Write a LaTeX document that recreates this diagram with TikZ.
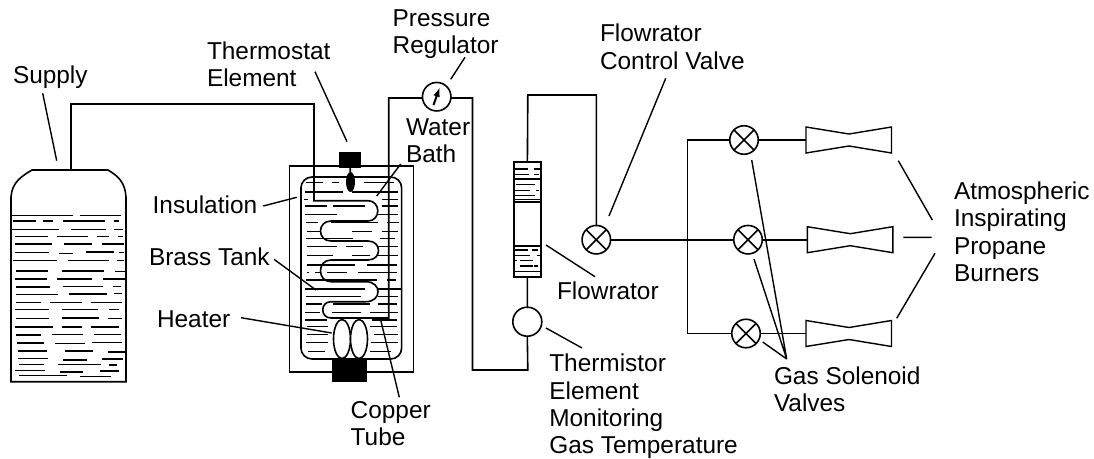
\documentclass[tikz,border=0pt]{standalone}
\usepackage{fontspec}
\setmainfont{Liberation Sans}
\usetikzlibrary{shapes.geometric}
\begin{document}
\begin{tikzpicture}[x=1pt,y=-1pt,line join=miter,
  pipe/.style={draw=black,line width=1.6pt},
  lead/.style={draw=black,line width=1.4pt},
  hat/.style={draw=black,line width=1.3pt},
  lab/.style={inner sep=0pt,outer sep=0pt,anchor=base west,align=left,font=\fontsize{24.4}{27.4}\selectfont,text=black},
  valve/.style={circle,draw=black,line width=1.6pt,minimum size=28.5pt,inner sep=0pt,outer sep=0pt,fill=white},
  box/.style={rectangle,draw=black,line width=1.6pt,inner sep=0pt,outer sep=0pt}]
\useasboundingbox (0,0) rectangle (1094,458);
% Supply tank
\coordinate (stop) at (71,170);
\draw[pipe] (11,381.7) -- (11,197) .. controls (12,182) and (22,176) .. (32,170) -- (108,170) .. controls (118,176) and (125,182) .. (126,197) -- (126,381.7) -- cycle;
\begin{scope}[shift={(0,150)},x=0.3333pt,y=-0.3333pt]
\foreach \a/\b/\c in {35/218/196,240/363/196,40/108/213,128/158/213,188/314/213,342/358/213,35/178/239,214/318/239,342/370/239,46/143/260,170/264/260,290/328/260,354/368/260,44/155/282,193/277/282,305/372/282,45/146/308,178/220/310,258/342/306,356/372/308,40/170/332,204/327/331,352/372/331,47/145/363,187/313/363,345/375/364,45/140/387,170/275/387,310/375/387,47/149/411,189/308/410,340/362/410,47/175/433,207/322/432,342/366/431,48/122/457,150/246/458,272/366/458,44/147/479,185/295/479,328/358/479,48/148/505,185/298/504,324/366/505,45/158/531,185/245/531,272/357/531,48/122/555,157/250/553,282/362/553,52/131/579,166/255/580,276/366/577,55/142/603,194/278/603,324/375/606,55/144/626,190/260/630,306/368/627,58/132/643,174/304/643,326/352/645,45/134/661,180/248/666,300/356/663,58/200/676,240/334/679}
  \draw[hat] (\a,\c) -- (\b,\c);
\end{scope}
% Water bath
\node[box,minimum width=124pt,minimum height=206pt] (ins) at (351.5,269) {};
\node[box,rounded corners=11pt,minimum width=100.7pt,minimum height=182pt] (tankb) at (351.3,268) {};
\begin{scope}[shift={(270,70)},x=0.3333pt,y=-0.3333pt]
\foreach \a/\b/\c in {108/160/338,186/206/338,282/372/338,105/218/366,245/385/366,103/113/388,335/385/388,105/170/408,190/285/408,335/385/408,105/200/434,325/385/434,108/145/458,183/325/458,350/388/458,110/150/485,245/305/485,335/385/485,108/175/505,175/250/505,330/375/505,110/200/530,228/280/530,325/385/530,110/190/557,245/300/557,320/385/557,110/255/585,290/380/585,110/118/607,135/150/607,170/230/607,265/380/607,108/320/630,350/378/630,105/285/657,325/392/657,108/272/680,325/385/680,108/155/702,190/300/702,325/380/702,105/150/727,185/272/727,300/385/727,105/170/750,305/380/750,110/175/770,300/380/770,110/175/793,312/385/793,108/175/818,302/385/818,115/165/845,300/362/845}
  \draw[hat] (\a,\c) -- (\b,\c);
\end{scope}
\node[fill=black,inner sep=0pt,minimum width=22pt,minimum height=16pt] (thb) at (350,160) {};
\node[fill=black,inner sep=0pt,minimum width=35pt,minimum height=23pt] (hb) at (349.5,370.5) {};
\node[ellipse,fill=black,inner sep=0pt,minimum width=9pt,minimum height=20pt] (the) at (350.5,182) {};
\draw[pipe] (thb) -- (the);
\node[ellipse,draw=black,line width=1.6pt,fill=white,inner sep=0pt,minimum width=17pt,minimum height=39pt] (h1) at (342,339) {};
\node[ellipse,draw=black,line width=1.6pt,fill=white,inner sep=0pt,minimum width=17pt,minimum height=39pt] (h2) at (359,339) {};
% Valves, gauge etc
\node[valve] (g) at (436.7,96.7) {};
\draw[pipe,line width=2pt,-latex] (433.5,105) -- (439.5,88);
\node[valve,minimum size=29pt] (tm) at (527.3,321.7) {};
\node[box,minimum width=26.7pt,minimum height=115.3pt] (fl) at (527.4,219.4) {};
\draw[pipe] (fl.west |- 0,201.7) -- (fl.east |- 0,201.7) (fl.west |- 0,245.7) -- (fl.east |- 0,245.7);
\begin{scope}[shift={(505,155)},x=0.3333pt,y=-0.3333pt]
\foreach \a/\b/\c in {30/70/42,88/104/42,30/72/58,88/103/58,30/104/72,32/90/88,30/75/106,93/103/106,30/90/122,30/104/133,30/70/285,80/100/285,30/75/302,95/104/302,30/37/316,45/85/316,45/85/333,88/98/333,30/104/350}
  \draw[hat] (\a,\c) -- (\b,\c);
\end{scope}
\foreach \n/\x/\y in {v0/596.3/239.7,v1/744/140,v2/748/239.7,v3/746/333.5}{
  \node[valve] (\n) at (\x,\y) {};
  \draw[pipe] (\n.45) -- (\n.225) (\n.135) -- (\n.315);
}
% Burners
\foreach \n/\x/\y in {b1/806/140,b2/807.3/239.7,b3/806/333.5}{
  \coordinate (\n) at (\x,\y);
  \draw[line width=1.4pt,line join=miter] (\n) ++(0,-13) -- ++(43,7) -- ++(42.5,-7) -- ++(0,26) -- ++(-42.5,-7) -- ++(-43,7) -- cycle;
}
% Pipes
\draw[pipe] (stop) -- (71,104) -- (314,104) -- (314,200.7) -- (368,200.7)
  .. controls (381,200.7) and (381,221) .. (368,221) -- (331,221)
  .. controls (317,221) and (317,241) .. (331,241) -- (368,241)
  .. controls (382,241) and (382,260) .. (368,260) -- (331,260)
  .. controls (317,260) and (317,281.7) .. (331,281.7) -- (366,281.7)
  .. controls (382,281.7) and (382,301.7) .. (366,301.7) -- (331,301.7)
  .. controls (320,301.7) and (320,318) .. (331,318) -- (388.7,318) -- (388.7,98) -- (g.west |- 0,98);
\draw[pipe] (388.7,289.3) -- (tankb.east |- 0,289.3);
\draw[pipe] (g.east |- 0,98) -- (472.5,98) -- (472.5,370) -- (527.8,370) -- (tm.south);
\draw[pipe] (tm.north) -- (fl.south);
\draw[pipe] (fl.north) -- (527.8,95) -- (596.3,95) -- (v0.north);
\draw[pipe] (v0.east) -- (v2.west);
\draw[pipe] (v1.west) -- (687.3,140) -- (687.3,333.5) -- (v3.west);
\draw[pipe] (v1.east) -- (b1);
\draw[pipe] (v2.east) -- (b2);
\draw[pipe] (v3.east) -- (b3);
% Leaders
\draw[lead] (42.7,93.3) coordinate (l1) -- (56.7,160.7) coordinate (l1b);
\draw[lead] (315,71.7) coordinate (l2) -- (347,141.7) coordinate (l2b);
\draw[lead] (465,57.3) coordinate (l3) -- (450.7,79.3) coordinate (l3b);
\draw[lead] (665.7,78.3) coordinate (l4) -- (609,216) coordinate (l4b);
\draw[lead] (400.7,164) coordinate (l5) -- (376.7,196) coordinate (l5b);
\draw[lead] (263.3,206) coordinate (l6) -- (296.7,197.3) coordinate (l6b);
\draw[lead] (274,259.3) coordinate (l7) -- (316,290) coordinate (l7b);
\draw[lead] (241,317.7) coordinate (l8) -- (331.7,333) coordinate (l8b);
\draw[lead] (380,317) coordinate (l9) -- (399.3,397.3) coordinate (l9b);
\draw[lead] (546,245) coordinate (l10) -- (595,276.7) coordinate (l10b);
\draw[lead] (546,328) coordinate (l11) -- (582,348) coordinate (l11b);
\coordinate (gsv) at (786.7,359);
\draw[lead] (751.7,160) -- (gsv) -- (754,259) (gsv) -- (762.7,342);
\draw[lead] (898.3,160.7) -- (932.3,220) (903.3,237.3) -- (931.7,237.3) (896.7,318.3) -- (935,253.3);
% Labels
\node[lab] (t1) at (13,83) {Supply};
\node[lab] (t2) at (207,86.7) {Thermostat\\Element};
\node[lab] (t3) at (392.7,53.4) {Pressure\\Regulator};
\node[lab] (t4) at (600,69) {Flowrator\\Control Valve};
\node[lab] (t5) at (406,162.7) {Water\\Bath};
\node[lab] (t6) at (152.7,213) {Insulation};
\node[lab] (t7) at (149,265) {Brass Tank};
\node[lab] (t8) at (157,327.7) {Heater};
\node[lab] (t9) at (350.7,445.7) {Copper\\Tube};
\node[lab] (t10) at (557,299) {Flowrator};
\node[lab] (t11) at (549.3,453.9) {Thermistor\\Element\\Monitoring\\Gas Temperature};
\node[lab] (t12) at (774,411.4) {Gas Solenoid\\Valves};
\node[lab] (t13) at (954,281.4) {Atmospheric\\Inspirating\\Propane\\Burners};
\end{tikzpicture}
\end{document}
